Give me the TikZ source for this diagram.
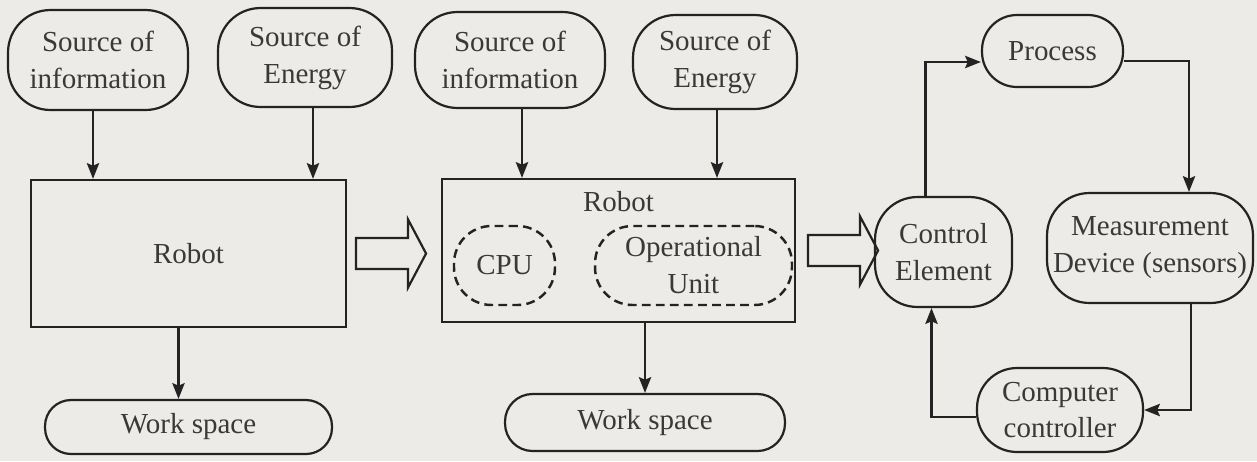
\documentclass[tikz,border=0pt]{standalone}
\usepackage{fontspec}
\setmainfont{Liberation Serif}
\usetikzlibrary{arrows.meta}

\definecolor{paper}{RGB}{236,235,231}
\definecolor{ink}{RGB}{35,35,35}

\tikzset{
  blk/.style={draw=ink, line width=1.25pt, text=ink!90, align=center, inner sep=2pt},
  src/.style={blk, rounded corners=0.85cm},
  unit/.style={draw=ink, line width=1.4pt, dash pattern=on 5pt off 3pt,
    rounded corners=0.75cm, text=ink!90, align=center, inner sep=1pt},
  arr/.style={draw=ink, line width=1.25pt, -{Stealth[length=9pt,width=7pt,inset=1.5pt]}},
  pics/bigarrow/.style={code={
    \draw[draw=ink, line width=1.25pt, fill=paper]
      (0,-15.5) -- (52,-15.5) -- (52,-34) -- (70,0) -- (52,34) -- (52,15.5) -- (0,15.5) -- cycle;}}
}

\begin{document}
\begin{tikzpicture}[x=0.02cm, y=-0.02cm, font=\fontsize{16.5}{21}\selectfont]
	\useasboundingbox (0,0) rectangle (1257,461);
	\fill[paper] (0,0) rectangle (1257,461);

	% first stage
	\node[src, minimum width=3.6cm, minimum height=2cm] (info1) at (98,60) {Source of\\information};
	\node[src, minimum width=3.48cm, minimum height=1.98cm] (energy1) at (305,57.5) {Source of\\Energy};
	\node[blk, minimum width=6.3cm, minimum height=2.94cm] (robot1) at (188.5,253.5) {Robot};
	\node[blk, rounded corners=0.52cm, minimum width=5.74cm, minimum height=1.08cm] (ws1) at (188.5,427) {Work space};

	\draw[arr] ([xshift=-0.1cm]info1.south) -- ([xshift=-0.1cm]info1.south |- robot1.north);
	\draw[arr] ([xshift=0.16cm]energy1.south) -- ([xshift=0.16cm]energy1.south |- robot1.north);
	\draw[arr] ([xshift=-0.2cm]robot1.south) -- ([xshift=-0.2cm]ws1.north);

	% second stage
	\node[src, minimum width=3.8cm, minimum height=1.92cm] (info2) at (510,60) {Source of\\information};
	\node[src, minimum width=3.28cm, minimum height=1.88cm] (energy2) at (715,62) {Source of\\Energy};
	\node[blk, minimum width=7.06cm, minimum height=2.86cm] (robot2) at (618.5,250.5) {};
	\node[text=ink!90] (robot2lbl) at ([yshift=-0.48cm]robot2.north) {Robot};
	\node[unit, minimum width=2.02cm, minimum height=1.58cm] (cpu) at (504.5,265.5) {CPU};
	\node[unit, minimum width=3.94cm, minimum height=1.58cm] (opunit) at (693.5,265.5) {Operational\\Unit};
	\node[blk, rounded corners=0.55cm, minimum width=5.6cm, minimum height=1.14cm] (ws2) at (645,422.5) {Work space};

	\draw[arr] ([xshift=0.24cm]info2.south) -- ([xshift=0.24cm]info2.south |- robot2.north);
	\draw[arr] ([xshift=0.04cm]energy2.south) -- ([xshift=0.04cm]energy2.south |- robot2.north);
	\draw[arr] (robot2.south -| ws2.north) -- (ws2.north);

	\pic at ([xshift=0.18cm]robot1.east) {bigarrow};
	\pic at ([xshift=0.24cm]robot2.east) {bigarrow};

	% control loop
	\node[src, rounded corners=0.7cm, minimum width=2.82cm, minimum height=1.44cm] (process) at (1052.5,51) {Process};
	\node[src, minimum width=2.74cm, minimum height=2.2cm] (control) at (943.5,252) {Control\\Element};
	\node[src, minimum width=4.12cm, minimum height=2.2cm] (measure) at (1150,248) {Measurement\\Device (sensors)};
	\node[src, rounded corners=0.8cm, minimum width=3.32cm, minimum height=1.68cm] (computer) at (1060,410) {Computer\\controller};

	\draw[arr] ([xshift=-0.36cm]control.north) |- ([yshift=-0.22cm]process.west);
	\draw[arr] ([yshift=-0.2cm]process.east) -| ([xshift=0.78cm]measure.north);
	\draw[arr] ([xshift=0.82cm]measure.south) |- (computer.east);
	\draw[arr] ([yshift=-0.14cm]computer.west) -| ([xshift=-0.24cm]control.south);
\end{tikzpicture}
\end{document}
